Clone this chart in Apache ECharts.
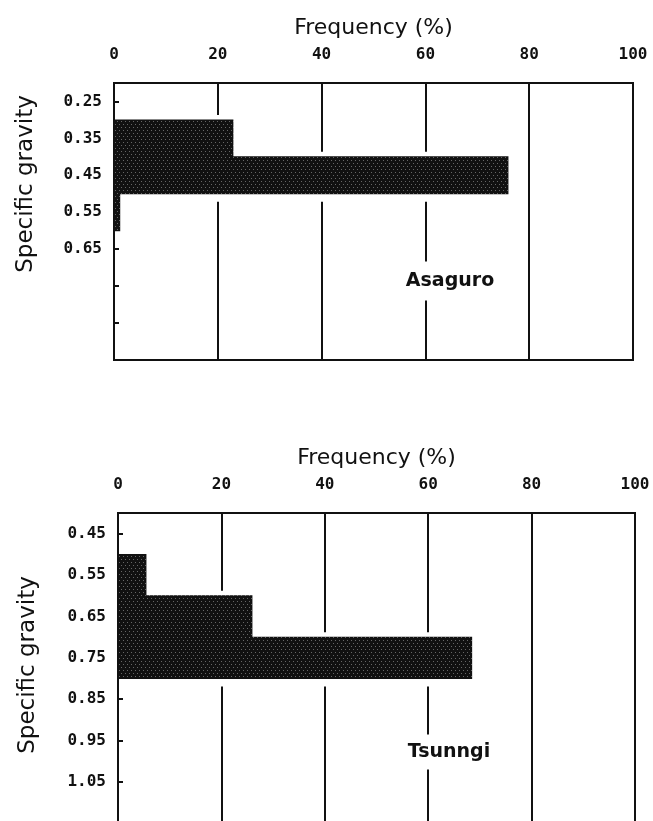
<!DOCTYPE html>
<html>
<head>
<meta charset="utf-8">
<script src="https://cdn.jsdelivr.net/npm/echarts@6/dist/echarts.min.js"></script>
<style>
  html, body { margin: 0; padding: 0; background: #fff; }
  #chart { width: 653px; height: 821px; }
</style>
</head>
<body>
<div id="chart"></div>
<script>
// bin lower edges (specific gravity) and frequency (%)
const asaguroBins = [0.3, 0.4, 0.5];
const asaguroFreq = [23, 76, 1.2];
const tsunngiBins = [0.5, 0.6, 0.7];
const tsunngiFreq = [5.5, 26, 68.5];
const binWidth = 0.1;

const freqTicks = [0, 20, 40, 60, 80, 100];
const asaguroTicks = [0.25, 0.35, 0.45, 0.55, 0.65, 0.75, 0.85];
const asaguroLabels = [0.25, 0.35, 0.45, 0.55, 0.65];
const tsunngiTicks = [0.45, 0.55, 0.65, 0.75, 0.85, 0.95, 1.05, 1.15];
const tsunngiLabels = [0.45, 0.55, 0.65, 0.75, 0.85, 0.95, 1.05];

const black = "#111";
const monoFont = "DejaVu Sans Mono";
const sansFont = "DejaVu Sans";

// speckled fill like the printed bars
const tile = document.createElement("canvas");
tile.width = 4;
tile.height = 6;
const tctx = tile.getContext("2d");
tctx.fillStyle = black;
tctx.fillRect(0, 0, 4, 6);
tctx.fillStyle = "#666";
tctx.fillRect(1, 1, 1, 1);
tctx.fillRect(3, 4, 1, 1);
const barFill = { image: tile, repeat: "repeat" };

function binData(bins, freq) {
  return bins.map((lo, i) => [lo, lo + binWidth, freq[i]]);
}

function binRect(api) {
  const p1 = api.coord([0, api.value(0)]);
  const p2 = api.coord([api.value(2), api.value(1)]);
  return {
    x: p1[0],
    y: Math.min(p1[1], p2[1]),
    width: p2[0] - p1[0],
    height: Math.abs(p2[1] - p1[1]),
  };
}

// white gap the grid lines leave around each bar
function renderHalo(params, api) {
  const r = binRect(api);
  return {
    type: "rect",
    shape: { x: r.x + 2, y: r.y - 5, width: r.width, height: r.height + 13 },
    style: { fill: "#fff" },
  };
}

function renderBin(params, api) {
  const r = binRect(api);
  return {
    type: "rect",
    shape: { x: r.x, y: r.y - 0.5, width: r.width, height: r.height + 1 },
    style: { fill: barFill },
  };
}

function freqAxis(gridIndex) {
  return {
    type: "value",
    gridIndex: gridIndex,
    position: "top",
    min: 0,
    max: 100,
    interval: 20,
    name: "Frequency (%)",
    nameLocation: "middle",
    nameGap: 44,
    nameTextStyle: { fontFamily: sansFont, fontSize: 22, color: black },
    axisLine: { show: false },
    axisTick: { show: false },
    axisLabel: {
      margin: 20,
      fontFamily: monoFont,
      fontWeight: "bold",
      fontSize: 16,
      color: black,
      customValues: freqTicks,
    },
    splitLine: { show: true, lineStyle: { color: black, width: 2 } },
  };
}

function sgAxis(gridIndex, min, max, ticks, labels) {
  return {
    type: "value",
    gridIndex: gridIndex,
    inverse: true,
    min: min,
    max: max,
    axisLine: { show: false },
    axisTick: {
      show: true,
      inside: true,
      length: 5,
      customValues: ticks,
      lineStyle: { color: black, width: 2 },
    },
    axisLabel: {
      margin: 12,
      fontFamily: monoFont,
      fontWeight: "bold",
      fontSize: 16,
      color: black,
      customValues: labels,
      formatter: (v) => v.toFixed(2),
    },
    splitLine: { show: false },
  };
}

function histSeries(name, index, data) {
  return [
    {
      name: name + " gap",
      type: "custom",
      xAxisIndex: index,
      yAxisIndex: index,
      z: 1,
      renderItem: renderHalo,
      encode: { x: 2, y: [0, 1] },
      data: data,
      silent: true,
    },
    {
      name: name,
      type: "custom",
      xAxisIndex: index,
      yAxisIndex: index,
      z: 3,
      renderItem: renderBin,
      encode: { x: 2, y: [0, 1] },
      data: data,
    },
  ];
}

const myChart = echarts.init(document.getElementById("chart"), null, { renderer: "canvas" });

const option = {
  backgroundColor: "#fff",
  animation: false,
  grid: [
    { left: 114, right: 20, top: 83, height: 277, outerBoundsMode: "none", show: true, borderColor: black, borderWidth: 2, backgroundColor: "transparent" },
    { left: 118, right: 18, top: 513, height: 331, outerBoundsMode: "none", show: true, borderColor: black, borderWidth: 2, backgroundColor: "transparent" },
  ],
  xAxis: [freqAxis(0), freqAxis(1)],
  yAxis: [
    sgAxis(0, 0.2, 0.95, asaguroTicks, asaguroLabels),
    sgAxis(1, 0.4, 1.2, tsunngiTicks, tsunngiLabels),
  ],
  series: [
    ...histSeries("Asaguro", 0, binData(asaguroBins, asaguroFreq)),
    ...histSeries("Tsunngi", 1, binData(tsunngiBins, tsunngiFreq)),
  ],
  graphic: [
    {
      type: "text", x: 26, y: 184, rotation: Math.PI / 2,
      style: { text: "Specific gravity", fontFamily: sansFont, fontSize: 23, fill: black, align: "center", verticalAlign: "middle" },
    },
    {
      type: "text", x: 28, y: 665, rotation: Math.PI / 2,
      style: { text: "Specific gravity", fontFamily: sansFont, fontSize: 23, fill: black, align: "center", verticalAlign: "middle" },
    },
    {
      type: "text", x: 450, y: 281, z: 10,
      style: {
        text: "Asaguro", fontFamily: sansFont, fontWeight: "bold", fontSize: 19, fill: black,
        align: "center", verticalAlign: "middle", backgroundColor: "#fff", padding: [10, 4],
      },
    },
    {
      type: "text", x: 449, y: 752, z: 10,
      style: {
        text: "Tsunngi", fontFamily: sansFont, fontWeight: "bold", fontSize: 19, fill: black,
        align: "center", verticalAlign: "middle", backgroundColor: "#fff", padding: [8, 4],
      },
    },
  ],
};

myChart.setOption(option);
window.addEventListener("resize", function () {
  myChart.resize();
});
</script>
</body>
</html>
